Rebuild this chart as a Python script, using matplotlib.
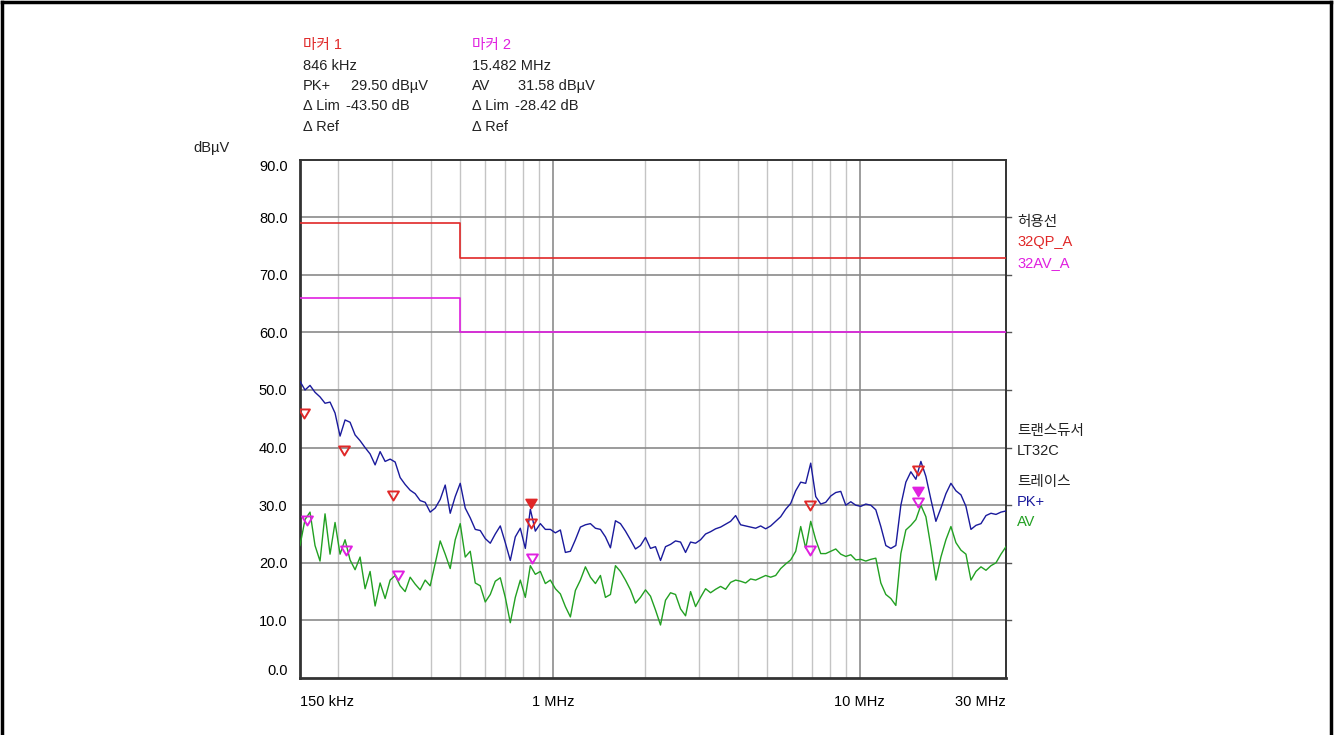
import numpy as np
import matplotlib
matplotlib.use("Agg")
import matplotlib.pyplot as plt
from matplotlib.path import Path
from matplotlib.lines import Line2D

plt.rcParams['font.family'] = ['Liberation Sans', 'Noto Sans CJK KR']

# ---- measured traces (dBuV), sampled on a log sweep from 150 kHz to 30 MHz ----
pk_dbuv = [
    51.5, 50.0, 50.8, 49.6, 48.8, 47.7, 47.9, 46.0, 42.0, 44.8,
    44.4, 42.2, 41.2, 40.0, 38.9, 37.0, 39.3, 37.6, 38.0, 37.5,
    34.8, 33.6, 32.6, 32.0, 30.8, 30.5, 28.8, 29.5, 31.0, 33.5,
    28.6, 31.5, 33.8, 29.5, 27.8, 25.8, 25.6, 24.2, 23.4, 25.0,
    26.4, 23.5, 20.4, 24.5, 26.0, 22.5, 29.3, 25.5, 26.8, 25.8,
    25.8, 25.2, 25.7, 21.8, 22.0, 24.0, 26.2, 26.6, 26.8, 26.0,
    25.8, 24.5, 22.6, 27.3, 26.8, 25.5, 24.0, 22.4, 23.0, 24.4,
    22.5, 22.8, 20.4, 22.8, 23.2, 23.8, 23.6, 21.8, 23.6, 23.4,
    24.0, 25.0, 25.4, 25.9, 26.2, 26.7, 27.2, 28.2, 26.6, 26.4,
    26.2, 26.0, 26.4, 25.9, 26.4, 27.2, 28.0, 29.3, 30.3, 32.5,
    34.0, 33.8, 37.3, 31.5, 30.2, 30.5, 31.6, 32.2, 32.4, 30.0,
    30.6, 30.0, 29.8, 30.2, 30.0, 29.2, 26.3, 23.0, 22.5, 23.0,
    30.0, 34.0, 35.8, 34.5, 37.6, 35.0, 31.0, 27.2, 29.5, 32.0,
    33.8, 32.5, 31.8, 29.8, 25.8, 26.5, 26.8, 28.2, 28.6, 28.4,
    28.8, 29.0,
]
av_dbuv = [
    23.0, 27.5, 28.8, 23.0, 20.3, 28.5, 21.5, 27.0, 21.5, 24.0,
    20.5, 18.8, 21.0, 15.5, 18.5, 12.5, 16.5, 13.8, 17.0, 17.8,
    16.0, 15.0, 17.5, 16.3, 15.3, 17.0, 16.0, 19.9, 23.8, 21.5,
    19.0, 24.0, 26.8, 21.0, 22.0, 16.5, 16.0, 13.2, 14.5, 16.8,
    17.4, 14.0, 9.6, 14.0, 17.0, 14.0, 19.5, 18.0, 18.5, 16.4,
    17.0, 15.5, 14.6, 12.4, 10.6, 15.2, 17.0, 19.3, 17.5, 16.4,
    17.8, 14.0, 14.5, 19.5, 18.5, 17.0, 15.3, 13.0, 14.0, 15.3,
    14.2, 11.8, 9.2, 13.5, 14.8, 14.5, 12.0, 10.8, 15.0, 12.4,
    14.0, 15.5, 14.8, 15.4, 15.9, 15.4, 16.6, 17.0, 16.8, 16.5,
    17.2, 17.0, 17.4, 17.8, 17.5, 17.8, 19.0, 19.8, 20.5, 22.0,
    26.3, 22.5, 27.2, 24.0, 21.6, 21.6, 22.0, 22.4, 21.5, 21.1,
    21.4, 20.5, 20.6, 20.3, 20.6, 20.8, 16.5, 14.5, 13.8, 12.6,
    21.6, 25.7, 26.5, 27.5, 30.0, 28.0, 22.8, 17.0, 21.0, 24.0,
    26.3, 23.5, 22.2, 21.5, 17.0, 18.5, 19.3, 18.7, 19.5, 20.0,
    21.5, 22.8,
]
freq_mhz = np.geomspace(0.15, 30.0, len(pk_dbuv))

# ---- limit lines ----
limit_freq = [0.15, 0.5, 0.5, 30.0]
qp_limit = [79.0, 79.0, 73.0, 73.0]
av_limit = [66.0, 66.0, 60.0, 60.0]

# ---- peak-search markers ----
pk_mark_freq = [0.1546, 0.2087, 0.3015, 0.846, 6.89, 15.482]
pk_mark_level = [45.1, 38.7, 30.9, 26.0, 29.2, 35.2]
av_mark_freq = [0.1581, 0.2119, 0.313, 0.855, 6.89, 15.482]
av_mark_level = [26.6, 21.4, 17.0, 20.0, 21.4, 29.7]

m1_freq, m1_level, m1_dlim = 0.846, 29.50, -43.50
m2_freq, m2_level, m2_dlim = 15.482, 31.58, -28.42

x_ticks = [0.15, 1.0, 10.0, 30.0]
x_tick_labels = ['150 kHz', '1 MHz', '10 MHz', '30 MHz']
y_ticks = [0, 10, 20, 30, 40, 50, 60, 70, 80, 90]

C_RED = '#e02828'
C_MAG = '#e020e0'
C_BLUE = '#1a1a9c'
C_GREEN = '#22a022'

W, H = 1335, 735
fig = plt.figure(figsize=(W / 100, H / 100), dpi=100)
ax = fig.add_axes([300 / W, 1 - 678 / H, 706 / W, (678 - 159.6) / H])

ax.set_xscale('log')
ax.set_xlim(0.15, 30.0)
ax.set_ylim(0, 90)

# grid
ax.set_xticks(x_ticks)
ax.set_xticklabels(x_tick_labels)
minor = [f * d for d in (0.1, 1.0, 10.0) for f in range(2, 10) if 0.15 < f * d < 30.0]
ax.set_xticks(minor, minor=True)
ax.set_xticklabels([], minor=True)
for f in minor:
    ax.axvline(f, color='#c4c4c4', lw=1.0, zorder=0)
for f in (1.0, 10.0):
    ax.axvline(f, color='#8c8c8c', lw=1.2, zorder=0)
ax.set_yticks(y_ticks)
ax.set_yticklabels([f'{v:.1f}' for v in y_ticks])
for v in y_ticks[1:-1]:
    ax.axhline(v, color='#8a8a8a', lw=1.2, zorder=0)

ax.tick_params(axis='x', which='both', length=0, pad=12, labelsize=10.5)
ax.tick_params(axis='y', which='both', length=0, pad=9, labelsize=10.5)
xl = ax.get_xticklabels()
xl[0].set_ha('left')
xl[-1].set_ha('right')
yl = ax.get_yticklabels()
yl[0].set_va('bottom')
yl[-1].set_va('top')

for s in ax.spines.values():
    s.set_color('#333333')
    s.set_linewidth(1.4)
ax.spines['left'].set_linewidth(2.0)
ax.spines['bottom'].set_linewidth(2.0)

# right-side tick stubs
for v in y_ticks[1:-1]:
    ax.plot([1.0, 1.007], [v, v], transform=ax.get_yaxis_transform(),
            color='#555555', lw=1.0, clip_on=False)

# limit lines
ax.plot(limit_freq, qp_limit, color=C_RED, lw=1.2, zorder=3)
ax.plot(limit_freq, av_limit, color=C_MAG, lw=1.2, zorder=3)

# traces
ax.plot(freq_mhz, av_dbuv, color=C_GREEN, lw=1.0, zorder=4)
ax.plot(freq_mhz, pk_dbuv, color=C_BLUE, lw=1.0, zorder=5)

# down-pointing triangle with apex on the value
tri = Path([(-0.6, 1.0), (0.6, 1.0), (0.0, 0.0), (-0.6, 1.0)],
           [Path.MOVETO, Path.LINETO, Path.LINETO, Path.CLOSEPOLY])
ax.plot(pk_mark_freq, pk_mark_level, ls='none', marker=tri, ms=13, mfc='none',
        mec=C_RED, mew=1.4, zorder=6)
ax.plot(av_mark_freq, av_mark_level, ls='none', marker=tri, ms=13, mfc='none',
        mec=C_MAG, mew=1.4, zorder=6)
ax.plot([m1_freq], [m1_level], ls='none', marker=tri, ms=13, mfc=C_RED,
        mec=C_RED, mew=1.2, zorder=7)
ax.plot([m2_freq], [m2_level], ls='none', marker=tri, ms=13, mfc=C_MAG,
        mec=C_MAG, mew=1.2, zorder=7)


def ftext(x, y, s, color='#222222', size=10.5, **kw):
    fig.text(x / W, 1 - y / H, s, color=color, fontsize=size, va='center', ha='left', **kw)


# marker readouts
ftext(303, 45, '마커 1', color=C_RED)
ftext(303, 66, f'{m1_freq * 1000:.0f} kHz')
ftext(303, 86, 'PK+')
ftext(351, 86, f'{m1_level:.2f} dBµV')
ftext(303, 106, 'Δ Lim')
ftext(346, 106, f'{m1_dlim:.2f} dB')
ftext(303, 127, 'Δ Ref')

ftext(472, 45, '마커 2', color=C_MAG)
ftext(472, 66, f'{m2_freq:.3f} MHz')
ftext(472, 86, 'AV')
ftext(518, 86, f'{m2_level:.2f} dBµV')
ftext(472, 106, 'Δ Lim')
ftext(515, 106, f'{m2_dlim:.2f} dB')
ftext(472, 127, 'Δ Ref')

ftext(193, 148, 'dBµV')

# right-hand legend
ftext(1017, 222, '허용선')
ftext(1017, 242, '32QP_A', color=C_RED)
ftext(1017, 263, '32AV_A', color=C_MAG)
ftext(1017, 431, '트랜스듀서')
ftext(1017, 451, 'LT32C')
ftext(1017, 482, '트레이스')
ftext(1017, 502, 'PK+', color=C_BLUE)
ftext(1017, 522, 'AV', color=C_GREEN)

# page frame
for xs, ys in (([2, 1331], [2, 2]), ([2, 2], [2, 735]), ([1331, 1331], [2, 735])):
    fig.add_artist(Line2D([x / W for x in xs], [1 - y / H for y in ys],
                          transform=fig.transFigure, color='black', lw=2.5))

fig.savefig('out.png', dpi=100)
